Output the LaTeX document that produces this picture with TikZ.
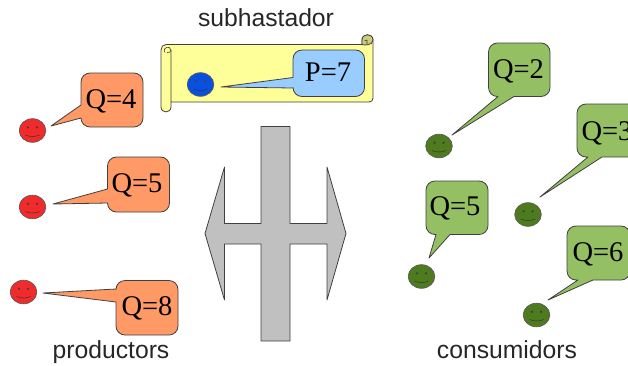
\documentclass[tikz,border=0pt]{standalone}
\usepackage{fontspec}
\setmainfont{Liberation Serif}
\newfontfamily\labelfont{Liberation Sans}
\definecolor{orangeb}{HTML}{FF9966}
\definecolor{greenb}{HTML}{95BF63}
\definecolor{blueb}{HTML}{99CCFF}
\definecolor{scrollc}{HTML}{FFFF99}
\definecolor{redf}{HTML}{F12B2B}
\definecolor{greenf}{HTML}{4E7B1E}
\definecolor{bluef}{HTML}{0A50E0}
\definecolor{greyc}{HTML}{C0C0C0}
\tikzset{
  x=1pt,y=-1pt,
  outline/.style={draw=black!75,line width=0.8pt,line join=round},
  qtext/.style={font=\fontsize{28.5}{30}\selectfont,inner sep=0pt,anchor=base},
  caption/.style={font=\labelfont\fontsize{24.7}{28}\selectfont,inner sep=0pt,text=black!85,anchor=base},
}
% \smiley{x}{y}{colour}
\newcommand{\smiley}[3]{%
  \begin{scope}[shift={(#1,#2)}]
    \fill[#3,draw=black!65,line width=0.7pt] (0,0) ellipse [x radius=13.3,y radius=11.8];
    \fill[black!75] (-4.5,-3.2) circle [radius=1.3] (4.5,-3.2) circle [radius=1.3];
    \draw[black!80,line width=0.5pt] (-7,4.5) .. controls (-3,6.5) and (3,6.5) .. (7,4.5);
  \end{scope}}
% tail on the left side: x1 y1 x2 y2 colour upper-base tip lower-base
\newcommand{\bubbleleft}[8]{%
  \path[outline,fill=#5] (#1,#6) -- (#1,#2+9)
    .. controls (#1,#2+4) and (#1+4,#2) .. (#1+9,#2) -- (#3-9,#2)
    .. controls (#3-4,#2) and (#3,#2+4) .. (#3,#2+9) -- (#3,#4-9)
    .. controls (#3,#4-4) and (#3-4,#4) .. (#3-9,#4) -- (#1+9,#4)
    .. controls (#1+4,#4) and (#1,#4-4) .. (#1,#4-9) -- (#1,#8) -- (#7) -- cycle;}
% tail on the bottom side: x1 y1 x2 y2 colour right-base tip left-base
\newcommand{\bubblebottom}[8]{%
  \path[outline,fill=#5] (#1,#2+9)
    .. controls (#1,#2+4) and (#1+4,#2) .. (#1+9,#2) -- (#3-9,#2)
    .. controls (#3-4,#2) and (#3,#2+4) .. (#3,#2+9) -- (#3,#4-9)
    .. controls (#3,#4-4) and (#3-4,#4) .. (#3-9,#4) -- (#6,#4) -- (#7) -- (#8,#4) -- (#1+9,#4)
    .. controls (#1+4,#4) and (#1,#4-4) .. (#1,#4-9) -- cycle;}
\begin{document}
\begin{tikzpicture}
\useasboundingbox (0,0) rectangle (628,365);
\clip (0,0) rectangle (628,365);
% captions
\node[caption] (subh) at (266,26.7) {subhastador};
\node[caption] (prod) at (111,358.3) {productors};
\node[caption] (cons) at (507,358.3) {consumidors};
% scroll
\path[outline,fill=scrollc] (171,102) -- (369,102) .. controls (371.5,102) and (373,100.5) .. (373,98)
  -- (373,40) .. controls (373,33) and (362,33) .. (362,40) -- (362,44.5) -- (166,44.5)
  .. controls (163,44.5) and (161,47) .. (161,50) -- (161,107)
  .. controls (161,113.5) and (171,113.5) .. (171,107) -- (171,50);
\path[outline,fill=scrollc!80!black] (362,44.5) -- (362,40) .. controls (362,33) and (373,33) .. (373,40)
  .. controls (373,45.5) and (364,45.5) .. (362,44.5) -- cycle;
\draw[black!75,line width=0.6pt] (367,44.5) -- (367,40) (364.5,41) -- (367,40);
\draw[black!75,line width=0.6pt] (165,52.5) .. controls (162,47) and (170,45) .. (171,50) .. controls (171,52) and (169,53) .. (167,52.5);
% double-headed arrow crossed by a bar
\path[outline,fill=greyc] (261,126.5) -- (290,126.5) -- (290,223.5) -- (327,223.5) -- (327,167) -- (346,233.5) -- (327,300) -- (327,244) -- (290,244) -- (290,341) -- (261,341) -- (261,244) -- (224.5,244) -- (224.5,300) -- (205,233.5) -- (224.5,167) -- (224.5,223.5) -- (261,223.5) -- cycle;
% smileys
\smiley{32.5}{130.5}{redf}
\smiley{32.5}{207}{redf}
\smiley{23.5}{292}{redf}
\smiley{200.5}{84.5}{bluef}
\smiley{439}{146}{greenf}
\smiley{528}{214.5}{greenf}
\smiley{421.5}{276.5}{greenf}
\smiley{536.5}{315}{greenf}
% bubbles
\bubbleleft{81}{73}{143}{127}{orangeb}{105}{51,126}{118}
\bubbleleft{107.5}{157}{169.5}{212}{orangeb}{189}{53,204}{203}
\bubbleleft{116}{280.5}{178}{335}{orangeb}{289}{43,293}{302}
\bubbleleft{293}{50}{364.5}{96.5}{blueb}{77.5}{221,87}{88}
\bubblebottom{488.5}{43}{550}{96.5}{greenb}{514}{452,135}{498}
\bubblebottom{577}{104}{640}{157}{greenb}{602}{540,197}{588}
\bubblebottom{426}{181}{488}{234.5}{greenb}{450}{429,258}{436}
\bubblebottom{567}{226}{630}{280}{greenb}{593}{548,300}{578}
% bubble texts
\node[qtext] (t1) at (111,108) {Q=4};
\node[qtext] (t2) at (137,192.7) {Q=5};
\node[qtext] (t3) at (147,315.7) {Q=8};
\node[qtext] (t4) at (328,81.5) {P=7};
\node[qtext] (t5) at (518.5,78.3) {Q=2};
\node[qtext] (t6) at (607,140) {Q=3};
\node[qtext] (t7) at (455,215) {Q=5};
\node[qtext] (t8) at (598,261.7) {Q=6};
\end{tikzpicture}
\end{document}
